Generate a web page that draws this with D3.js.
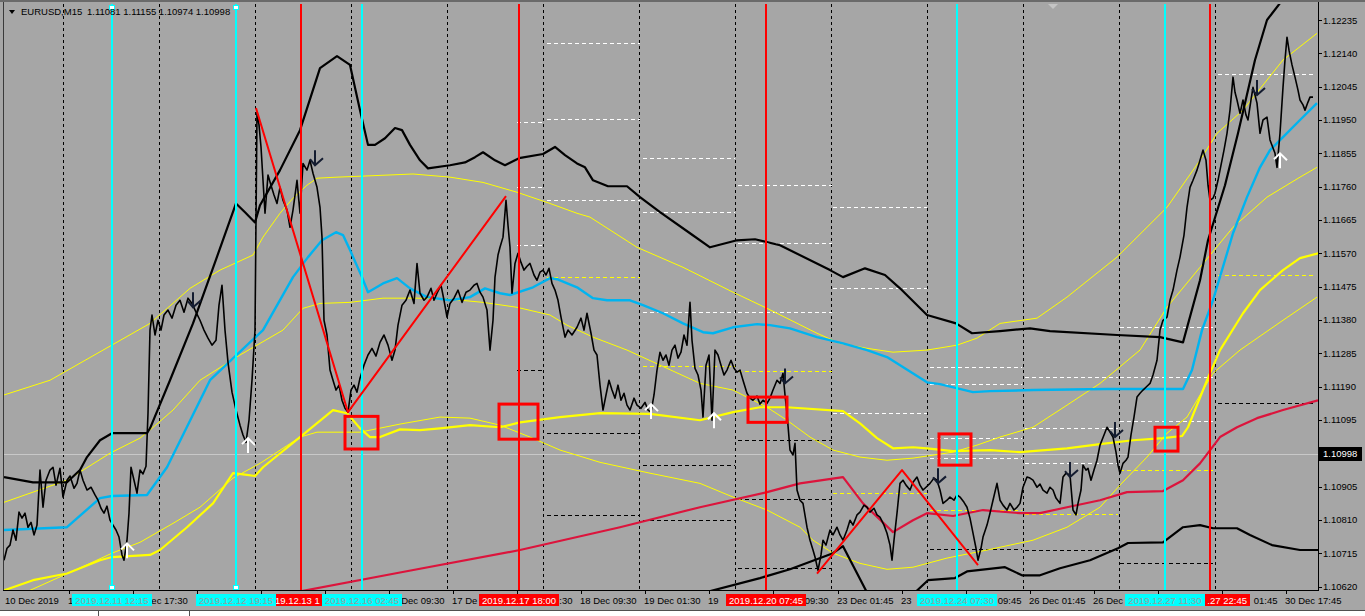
<!DOCTYPE html>
<html><head><meta charset="utf-8">
<script src="https://cdn.jsdelivr.net/npm/d3@7"></script>
<style>
html,body{margin:0;padding:0;background:#a6a6a6;overflow:hidden}
svg{display:block}
text{font-family:"Liberation Sans",Arial,sans-serif}
</style></head><body>
<svg id="c" width="1365" height="616"></svg>
<script>
// ---------- DATA ----------
const tradingDays = ["2019.12.10","2019.12.11","2019.12.12","2019.12.13","2019.12.16","2019.12.17","2019.12.18","2019.12.19","2019.12.20","2019.12.23","2019.12.24","2019.12.26","2019.12.27","2019.12.30"];
const barsPerDay = 96;
const firstBarTime = "2019.12.10 09:15";
const symbolTitle = "EURUSD,M15";
const ohlc = [1.11081, 1.11155, 1.10974, 1.10998];
const bidPrice = 1.10998;
const priceTicks = [1.12235,1.12140,1.12045,1.11950,1.11855,1.11760,1.11665,1.11570,1.11475,1.11380,1.11285,1.11190,1.11095,1.10905,1.10810,1.10715,1.10620];
const firstLabel = "10 Dec 2019";
const timeLabels = ["11 Dec 01:30","11 Dec 17:30","12 Dec 09:30","13 Dec 01:30","13 Dec 17:30","16 Dec 09:30","17 Dec 01:30","17 Dec 17:30","18 Dec 09:30","19 Dec 01:30","19 Dec 17:30","20 Dec 09:30","23 Dec 01:45","23 Dec 17:45","24 Dec 09:45","26 Dec 01:45","26 Dec 17:45","27 Dec 09:45","30 Dec 01:45","30 Dec 17:45"];
const cyanLines = ["2019.12.11 12:15","2019.12.12 19:15","2019.12.16 02:45","2019.12.24 07:30","2019.12.27 11:30"];
const redLines = ["2019.12.13 11:30","2019.12.17 18:00","2019.12.20 07:45","2019.12.27 22:45"];
const selectedCyan = [0,1];
const shiftMarkerBar = 1049;

// close line: [bar since first visible bar, close]
const closeLine = [[0,1.10695],[3,1.10729],[6,1.10738],[9,1.10781],[12,1.10752],[15,1.10832],[18,1.10815],[21,1.10829],[24,1.10789],[27,1.10803],[30,1.10767],[33,1.10795],[36,1.10952],[39,1.10846],[42,1.10923],[46,1.10952],[49,1.10960],[52,1.10909],[56,1.10957],[59,1.10875],[63,1.10923],[66,1.10935],[70,1.10900],[73,1.10914],[76,1.10952],[79,1.10923],[83,1.10895],[87,1.10903],[91,1.10881],[94,1.10866],[97,1.10843],[100,1.10829],[103,1.10849],[106,1.10809],[109,1.10795],[112,1.10781],[115,1.10761],[118,1.10710],[120,1.10695],[123,1.10752],[125,1.10829],[127,1.10960],[130,1.10923],[133,1.10886],[136,1.10952],[139,1.10941],[142,1.10963],[144,1.11114],[146,1.11351],[148,1.11394],[151,1.11337],[154,1.11379],[157,1.11351],[160,1.11394],[164,1.11408],[168,1.11385],[172,1.11422],[176,1.11436],[180,1.11402],[184,1.11442],[188,1.11427],[192,1.11402],[196,1.11379],[200,1.11351],[204,1.11328],[208,1.11308],[212,1.11322],[215,1.11422],[218,1.11479],[221,1.11351],[224,1.11259],[228,1.11174],[232,1.11123],[236,1.11080],[239,1.11052],[242,1.11031],[245,1.11094],[248,1.11208],[251,1.11351],[253,1.11972],[255,1.11936],[257,1.11873],[259,1.11778],[261,1.11684],[264,1.11793],[267,1.11764],[270,1.11736],[273,1.11712],[276,1.11758],[279,1.11721],[283,1.11693],[286,1.11644],[289,1.11693],[293,1.11778],[296,1.11684],[299,1.11826],[303,1.11807],[306,1.11835],[309,1.11798],[313,1.11758],[316,1.11701],[318,1.11616],[320,1.11379],[323,1.11337],[326,1.11237],[329,1.11208],[332,1.11180],[335,1.11194],[338,1.11151],[341,1.11128],[344,1.11117],[347,1.11180],[350,1.11194],[353,1.11174],[356,1.11214],[360,1.11251],[364,1.11280],[368,1.11299],[372,1.11277],[376,1.11316],[380,1.11337],[384,1.11308],[388,1.11265],[391,1.11294],[394,1.11365],[398,1.11422],[402,1.11436],[406,1.11465],[410,1.11427],[413,1.11541],[416,1.11456],[420,1.11436],[423,1.11445],[427,1.11470],[430,1.11436],[433,1.11456],[437,1.11479],[440,1.11436],[443,1.11388],[446,1.11427],[450,1.11442],[454,1.11465],[458,1.11430],[462,1.11459],[466,1.11465],[470,1.11479],[473,1.11484],[476,1.11459],[479,1.11445],[483,1.11408],[486,1.11294],[489,1.11379],[491,1.11502],[494,1.11565],[496,1.11587],[499,1.11616],[502,1.11721],[504,1.11650],[506,1.11587],[508,1.11456],[511,1.11541],[514,1.11570],[517,1.11544],[520,1.11522],[523,1.11533],[526,1.11541],[530,1.11508],[533,1.11493],[536,1.11516],[539,1.11522],[542,1.11508],[545,1.11527],[548,1.11484],[551,1.11465],[554,1.11436],[557,1.11388],[561,1.11331],[564,1.11351],[568,1.11337],[573,1.11359],[577,1.11385],[580,1.11351],[583,1.11399],[587,1.11342],[590,1.11294],[593,1.11280],[596,1.11194],[599,1.11123],[602,1.11166],[605,1.11208],[608,1.11180],[611,1.11157],[614,1.11194],[617,1.11151],[620,1.11171],[623,1.11137],[626,1.11123],[630,1.11157],[633,1.11137],[637,1.11128],[641,1.11145],[644,1.11123],[647,1.11117],[650,1.11166],[653,1.11237],[656,1.11288],[659,1.11265],[662,1.11280],[665,1.11251],[668,1.11294],[671,1.11308],[674,1.11271],[677,1.11288],[680,1.11337],[683,1.11308],[686,1.11430],[688,1.11322],[691,1.11242],[694,1.11223],[697,1.11180],[699,1.11103],[702,1.11251],[705,1.11280],[708,1.11094],[711,1.11294],[714,1.11280],[717,1.11251],[720,1.11223],[723,1.11237],[727,1.11265],[730,1.11242],[733,1.11231],[736,1.11237],[739,1.11208],[743,1.11171],[746,1.11157],[749,1.11151],[753,1.11163],[756,1.11140],[759,1.11151],[763,1.11142],[766,1.11157],[769,1.11180],[773,1.11208],[776,1.11199],[779,1.11228],[781,1.11166],[783,1.11114],[786,1.11009],[789,1.10995],[791,1.11028],[793,1.10895],[796,1.10866],[799,1.10857],[803,1.10789],[806,1.10752],[809,1.10724],[811,1.10704],[814,1.10666],[817,1.10710],[819,1.10752],[822,1.10738],[826,1.10781],[829,1.10767],[833,1.10789],[836,1.10767],[839,1.10752],[843,1.10781],[846,1.10809],[849,1.10795],[853,1.10824],[856,1.10832],[860,1.10852],[863,1.10846],[866,1.10832],[870,1.10843],[873,1.10824],[876,1.10818],[880,1.10795],[883,1.10772],[886,1.10738],[888,1.10695],[890,1.10752],[893,1.10829],[896,1.10914],[899,1.10923],[902,1.10909],[906,1.10895],[909,1.10917],[913,1.10932],[916,1.10909],[919,1.10895],[922,1.10903],[926,1.10914],[930,1.10929],[933,1.10923],[936,1.10895],[939,1.10857],[943,1.10866],[946,1.10875],[950,1.10866],[953,1.10881],[956,1.10875],[960,1.10860],[963,1.10846],[966,1.10815],[969,1.10772],[972,1.10729],[974,1.10695],[977,1.10729],[979,1.10761],[983,1.10795],[986,1.10829],[989,1.10866],[993,1.10914],[996,1.10866],[999,1.10852],[1003,1.10838],[1006,1.10857],[1010,1.10838],[1013,1.10846],[1016,1.10857],[1019,1.10903],[1023,1.10932],[1026,1.10929],[1029,1.10923],[1033,1.10903],[1036,1.10912],[1039,1.10895],[1043,1.10886],[1046,1.10903],[1049,1.10895],[1052,1.10872],[1056,1.10857],[1059,1.10932],[1062,1.10943],[1066,1.10938],[1069,1.10838],[1072,1.10824],[1074,1.10857],[1077,1.10895],[1079,1.10966],[1082,1.10952],[1084,1.10957],[1087,1.10923],[1090,1.10952],[1093,1.10980],[1096,1.11023],[1100,1.11052],[1103,1.11074],[1106,1.11060],[1109,1.11046],[1112,1.11003],[1114,1.10966],[1116,1.10943],[1119,1.10971],[1122,1.10980],[1124,1.10989],[1127,1.11052],[1130,1.11103],[1133,1.11160],[1136,1.11171],[1139,1.11180],[1143,1.11191],[1146,1.11199],[1149,1.11223],[1153,1.11265],[1156,1.11351],[1159,1.11379],[1163,1.11388],[1166,1.11436],[1169,1.11465],[1173,1.11522],[1176,1.11559],[1180,1.11622],[1183,1.11701],[1186,1.11758],[1189,1.11778],[1193,1.11807],[1196,1.11835],[1199,1.11864],[1202,1.11835],[1204,1.11764],[1206,1.11721],[1209,1.11727],[1211,1.11741],[1214,1.11778],[1216,1.11807],[1220,1.11864],[1223,1.11912],[1226,1.11978],[1229,1.12072],[1231,1.12029],[1233,1.12007],[1236,1.11969],[1239,1.12007],[1242,1.11964],[1244,1.11950],[1247,1.12007],[1249,1.12043],[1251,1.12021],[1253,1.11998],[1256,1.11912],[1259,1.11950],[1263,1.11958],[1266,1.11893],[1269,1.11870],[1271,1.11855],[1273,1.11815],[1276,1.11912],[1279,1.12043],[1281,1.12121],[1283,1.12186],[1285,1.12149],[1288,1.12107],[1291,1.12072],[1294,1.12035],[1296,1.12007],[1299,1.11993],[1301,1.11978],[1304,1.12001],[1306,1.12015],[1309,1.12015]];

const upperBand = [[0,1.10932],[29,1.10917],[63,1.10917],[76,1.10952],[83,1.10989],[96,1.11037],[108,1.11057],[143,1.11057],[146,1.11071],[166,1.11208],[189,1.11370],[211,1.11544],[232,1.11712],[241,1.11687],[251,1.11658],[256,1.11707],[276,1.11807],[296,1.11921],[316,1.12098],[333,1.12132],[346,1.12107],[356,1.11978],[364,1.11879],[371,1.11879],[381,1.11898],[391,1.11927],[398,1.11921],[406,1.11879],[416,1.11835],[424,1.11812],[446,1.11821],[461,1.11829],[471,1.11844],[479,1.11858],[491,1.11835],[501,1.11821],[515,1.11841],[539,1.11853],[551,1.11873],[561,1.11850],[573,1.11826],[581,1.11815],[589,1.11778],[604,1.11761],[623,1.11761],[636,1.11730],[656,1.11687],[686,1.11627],[706,1.11587],[733,1.11607],[751,1.11610],[776,1.11593],[826,1.11522],[839,1.11502],[861,1.11527],[881,1.11508],[896,1.11470],[923,1.11394],[952,1.11370],[968,1.11342],[996,1.11348],[1026,1.11356],[1046,1.11348],[1113,1.11337],[1156,1.11331],[1179,1.11316],[1196,1.11493],[1204,1.11607],[1221,1.11764],[1234,1.11912],[1251,1.12121],[1263,1.12235],[1276,1.12283]];
const lowerBandA = [[701,1.10603],[756,1.10644],[786,1.10669],[829,1.10715],[839,1.10735],[863,1.10603]];
const lowerBandB = [[911,1.10603],[924,1.10638],[951,1.10644],[963,1.10663],[1001,1.10675],[1018,1.10652],[1036,1.10652],[1056,1.10672],[1086,1.10695],[1114,1.10729],[1124,1.10744],[1159,1.10746],[1179,1.10789],[1196,1.10795],[1209,1.10786],[1233,1.10786],[1246,1.10767],[1268,1.10738],[1296,1.10724],[1314,1.10724]];
const blueLine = [[0,1.10781],[63,1.10789],[96,1.10872],[108,1.10878],[143,1.10881],[163,1.10960],[206,1.11208],[259,1.11351],[289,1.11502],[304,1.11559],[318,1.11607],[332,1.11630],[339,1.11622],[346,1.11579],[358,1.11502],[364,1.11459],[379,1.11484],[393,1.11499],[406,1.11470],[423,1.11445],[446,1.11436],[466,1.11445],[481,1.11470],[496,1.11456],[506,1.11451],[529,1.11473],[546,1.11499],[553,1.11496],[573,1.11473],[589,1.11442],[603,1.11436],[626,1.11436],[639,1.11422],[659,1.11399],[679,1.11370],[699,1.11345],[709,1.11342],[729,1.11359],[753,1.11368],[766,1.11365],[786,1.11356],[813,1.11331],[839,1.11313],[863,1.11294],[883,1.11274],[923,1.11202],[936,1.11197],[969,1.11174],[986,1.11177],[1029,1.11180],[1103,1.11183],[1179,1.11183],[1188,1.11237],[1198,1.11351],[1209,1.11436],[1229,1.11627],[1243,1.11730],[1256,1.11815],[1266,1.11864],[1279,1.11901],[1296,1.11950],[1313,1.11998]];
const crimsonLine = [[296,1.10606],[396,1.10660],[516,1.10724],[616,1.10789],[696,1.10846],[763,1.10889],[796,1.10914],[839,1.10932],[859,1.10857],[889,1.10775],[909,1.10809],[923,1.10829],[949,1.10821],[979,1.10838],[1016,1.10829],[1036,1.10829],[1063,1.10846],[1096,1.10866],[1123,1.10889],[1159,1.10892],[1179,1.10923],[1196,1.10971],[1216,1.11046],[1233,1.11074],[1253,1.11100],[1279,1.11123],[1314,1.11151]];
const thickYellow = [[0,1.10609],[29,1.10638],[63,1.10657],[96,1.10695],[108,1.10704],[146,1.10710],[156,1.10724],[183,1.10789],[209,1.10857],[229,1.10943],[243,1.10938],[251,1.10935],[259,1.10960],[296,1.11046],[329,1.11123],[343,1.11114],[356,1.11071],[366,1.11046],[376,1.11046],[396,1.11068],[416,1.11066],[436,1.11071],[466,1.11080],[496,1.11074],[516,1.11088],[556,1.11103],[596,1.11114],[646,1.11112],[696,1.11094],[729,1.11117],[756,1.11131],[783,1.11131],[839,1.11120],[856,1.11085],[873,1.11043],[889,1.11014],[909,1.11017],[923,1.11014],[949,1.11006],[986,1.11009],[1016,1.11003],[1063,1.11014],[1096,1.11026],[1129,1.11037],[1159,1.11043],[1178,1.11049],[1184,1.11074],[1203,1.11208],[1216,1.11294],[1239,1.11399],[1256,1.11465],[1279,1.11522],[1296,1.11556],[1314,1.11570]];
const thinYellowUpper = [[0,1.11166],[46,1.11208],[146,1.11370],[186,1.11470],[216,1.11522],[249,1.11565],[259,1.11616],[276,1.11684],[289,1.11727],[303,1.11764],[313,1.11784],[333,1.11787],[359,1.11790],[409,1.11796],[446,1.11787],[479,1.11772],[513,1.11744],[546,1.11712],[573,1.11684],[586,1.11673],[633,1.11587],[679,1.11530],[729,1.11459],[763,1.11413],[813,1.11342],[836,1.11313],[863,1.11299],[889,1.11288],[923,1.11294],[953,1.11308],[973,1.11328],[996,1.11370],[1033,1.11385],[1063,1.11445],[1113,1.11559],[1163,1.11701],[1196,1.11835],[1213,1.11912],[1239,1.11978],[1279,1.12121],[1313,1.12197]];
const thinYellowMid = [[0,1.10860],[63,1.10923],[106,1.11000],[136,1.11043],[146,1.11066],[169,1.11123],[196,1.11208],[236,1.11280],[279,1.11351],[299,1.11413],[316,1.11427],[346,1.11430],[379,1.11442],[413,1.11442],[446,1.11439],[479,1.11430],[513,1.11416],[546,1.11394],[563,1.11365],[589,1.11331],[623,1.11294],[696,1.11199],[729,1.11180],[763,1.11131],[783,1.11094],[806,1.11046],[829,1.11009],[856,1.10989],[883,1.10980],[909,1.10986],[949,1.11003],[973,1.11023],[996,1.11046],[1029,1.11074],[1063,1.11137],[1096,1.11199],[1136,1.11294],[1163,1.11416],[1196,1.11530],[1229,1.11644],[1263,1.11730],[1296,1.11787],[1313,1.11815]];
const thinYellowLower = [[0,1.10570],[26,1.10609],[79,1.10677],[108,1.10715],[136,1.10746],[169,1.10800],[196,1.10846],[229,1.10929],[256,1.10971],[296,1.11046],[313,1.11060],[356,1.11060],[396,1.11083],[436,1.11103],[466,1.11100],[496,1.11080],[526,1.11046],[556,1.11009],[596,1.10974],[646,1.10943],[696,1.10914],[729,1.10875],[763,1.10838],[796,1.10789],[809,1.10752],[829,1.10715],[856,1.10686],[883,1.10669],[909,1.10675],[943,1.10701],[983,1.10724],[1029,1.10752],[1063,1.10789],[1096,1.10846],[1116,1.10909],[1143,1.10989],[1163,1.11057],[1183,1.11103],[1209,1.11228],[1236,1.11294],[1279,1.11379],[1313,1.11445]];

// dashed daily levels: [startBar, endBar, price]
const whiteLevels = [[543,636,1.12169],[513,539,1.11944],[543,636,1.11952],[513,539,1.11758],[543,636,1.11721],[513,539,1.11593],[639,731,1.11841],[639,731,1.11687],[639,731,1.11402],[734,828,1.11764],[734,828,1.11598],[734,828,1.11402],[829,923,1.11701],[829,923,1.11470],[829,923,1.11114],[926,1018,1.11245],[926,1018,1.11197],[926,1018,1.11043],[926,1018,1.10986],[1021,1114,1.11217],[1021,1114,1.11071],[1021,1114,1.10971],[1116,1209,1.11359],[1116,1209,1.11217],[1116,1209,1.11091],[1214,1309,1.12081]];
const yellowLevels = [[543,636,1.11502],[639,731,1.11248],[734,828,1.11234],[829,923,1.10886],[926,1018,1.10838],[1021,1114,1.10826],[1116,1209,1.10952],[1214,1309,1.11508]];
const blackLevels = [[513,539,1.11237],[543,636,1.11057],[543,636,1.10824],[639,731,1.10966],[639,731,1.10809],[734,828,1.11037],[734,828,1.10869],[734,828,1.10672],[926,1018,1.10726],[1021,1114,1.10724],[1116,1209,1.10686],[1214,1309,1.11143]];

const zigzagA = [[252,1.11984],[344,1.11117],[502,1.11733]];
const zigzagB = [[813,1.10657],[898,1.10952],[974,1.10681]];
const boxes = [[341,374,1.11105,1.11012],[495,534,1.11140,1.11040],[744,783,1.11160,1.11088],[935,967,1.11055,1.10966],[1151,1174,1.11074,1.11006]];
const downArrows = [[189,1.11416],[311,1.11821],[781,1.11199],[934,1.10914],[1066,1.10932],[1111,1.11046],[1253,1.12021]];
const upArrows = [[123,1.10743],[244,1.11043],[647,1.11140],[710,1.11114],[1276,1.11855]];

// ---------- RENDER ----------
const plot = {l:4, t:4, r:1318, b:590};
const months = {Dec:"12"};
function barOfRaw(t){ const [d,hm]=t.split(" "); const [h,m]=hm.split(":").map(Number); return tradingDays.indexOf(d)*barsPerDay + h*4 + Math.floor(m/15); }
const firstBar = barOfRaw(firstBarTime);
const barOf = t => barOfRaw(t) - firstBar;
const labelToTime = s => { const [d,mon,hm]=s.split(" "); return "2019."+months[mon]+"."+d.padStart(2,"0")+" "+hm; };

const x = d3.scaleLinear().domain([0, plot.r-plot.l]).range([plot.l, plot.r]);
const y = d3.scaleLinear().domain([1.10620, 1.12235]).range([586.5, 20]);
const px = v => Math.round(x(v))+0.5;
const py = v => Math.round(y(v))+0.5;

const svg = d3.select("#c");
svg.append("rect").attr("width",1365).attr("height",616).attr("fill","#a6a6a6");
svg.append("defs").append("clipPath").attr("id","pc").append("rect")
  .attr("x",plot.l).attr("y",plot.t).attr("width",plot.r-plot.l).attr("height",plot.b-plot.t);
const g = svg.append("g").attr("clip-path","url(#pc)");

// day grid
const dayStarts = d3.range(1, tradingDays.length).map(k => k*barsPerDay - firstBar);
g.append("g").selectAll("line").data(dayStarts).join("line")
  .attr("x1",d=>px(d)).attr("x2",d=>px(d)).attr("y1",plot.t).attr("y2",plot.b)
  .attr("stroke","#000").attr("stroke-dasharray","3,3");

function levels(arr,color){
  g.append("g").selectAll("line").data(arr).join("line")
    .attr("x1",d=>x(d[0])).attr("x2",d=>x(d[1])).attr("y1",d=>py(d[2])).attr("y2",d=>py(d[2]))
    .attr("stroke",color).attr("stroke-dasharray","4,3");
}
levels(whiteLevels,"#ffffff"); levels(yellowLevels,"#ffff00"); levels(blackLevels,"#000000");

// bid line
g.append("line").attr("x1",plot.l).attr("x2",plot.r).attr("y1",py(bidPrice)).attr("y2",py(bidPrice)).attr("stroke","#c8c8c8");

const line = d3.line().x(d=>x(d[0])).y(d=>y(d[1]));
function path(data,color,w){
  g.append("path").attr("d",line(data)).attr("fill","none").attr("stroke",color)
   .attr("stroke-width",w).attr("stroke-linejoin","round");
}
path(thinYellowUpper,"#ffff00",1);
path(thinYellowMid,"#ffff00",1);
path(thinYellowLower,"#ffff00",1);
path(thickYellow,"#ffff00",2.2);
path(crimsonLine,"#dc143c",2.2);
path(blueLine,"#00b4f0",2.4);
path(upperBand,"#000000",2.2);
path(lowerBandA,"#000000",2.2);
path(lowerBandB,"#000000",2.2);
path(closeLine,"#000000",1.6);

// vertical lines
g.append("g").selectAll("line").data(redLines).join("line")
  .attr("x1",d=>x(barOf(d))).attr("x2",d=>x(barOf(d))).attr("y1",plot.t).attr("y2",plot.b)
  .attr("stroke","#ff0000").attr("stroke-width",2);
g.append("g").selectAll("line").data(cyanLines).join("line")
  .attr("x1",d=>x(barOf(d))).attr("x2",d=>x(barOf(d))).attr("y1",plot.t).attr("y2",plot.b)
  .attr("stroke","#00ffff").attr("stroke-width",2);
selectedCyan.forEach(i=>{
  const cx = x(barOf(cyanLines[i]));
  [plot.t+2, plot.b-4].forEach(yy=>{
    g.append("rect").attr("x",cx-2.5).attr("y",yy-0.5).attr("width",5).attr("height",4)
     .attr("fill","#fff").attr("stroke","#00ffff").attr("stroke-width",1);
  });
});

path(zigzagA,"#ff0000",2);
path(zigzagB,"#ff0000",2);

g.append("g").selectAll("rect").data(boxes).join("rect")
  .attr("x",d=>x(d[0])).attr("y",d=>y(d[2])).attr("width",d=>x(d[1])-x(d[0])).attr("height",d=>y(d[3])-y(d[2]))
  .attr("fill","none").attr("stroke","#ff0000").attr("stroke-width",3);

g.append("g").selectAll("path").data(downArrows).join("path")
  .attr("transform",d=>`translate(${x(d[0])},${y(d[1])})`)
  .attr("d","M0,-15L0,0M-5,-6L0,0L8,-7").attr("fill","none").attr("stroke","#141c30").attr("stroke-width",2);
g.append("g").selectAll("path").data(upArrows).join("path")
  .attr("transform",d=>`translate(${x(d[0])},${y(d[1])})`)
  .attr("d","M0,15L0,0M-6,6L0,0L7,7").attr("fill","none").attr("stroke","#ffffff").attr("stroke-width",2);

// shift marker
svg.append("path").attr("d",`M${x(shiftMarkerBar)-5},4L${x(shiftMarkerBar)+5},4L${x(shiftMarkerBar)},9Z`).attr("fill","#c4c4c4");

// frame
svg.append("rect").attr("x",0).attr("y",0).attr("width",1365).attr("height",2).attr("fill","#6a6a6a");
svg.append("line").attr("x1",3.5).attr("x2",3.5).attr("y1",2).attr("y2",plot.b).attr("stroke","#3a3a3a");
svg.append("line").attr("x1",plot.r+0.5).attr("x2",plot.r+0.5).attr("y1",2).attr("y2",plot.b+1).attr("stroke","#000");
svg.append("line").attr("x1",3).attr("x2",plot.r+1).attr("y1",plot.b+0.5).attr("y2",plot.b+0.5).attr("stroke","#000");

// right axis
const ra = svg.append("g");
ra.selectAll("line").data(priceTicks).join("line")
  .attr("x1",plot.r).attr("x2",plot.r+4).attr("y1",d=>py(d)).attr("y2",d=>py(d)).attr("stroke","#000");
ra.selectAll("text").data(priceTicks).join("text")
  .attr("x",plot.r+5).attr("y",d=>y(d)+3.5).attr("font-size","9.5px").attr("fill","#000").text(d=>d.toFixed(5));
svg.append("rect").attr("x",plot.r+1).attr("y",Math.round(y(bidPrice))-7).attr("width",43).attr("height",14).attr("fill","#000");
svg.append("text").attr("x",plot.r+5).attr("y",y(bidPrice)+3.5).attr("font-size","9.5px").attr("fill","#fff").text(bidPrice.toFixed(5));

// keep only the part of a text that is not hidden under label boxes drawn above it
function trimCovered(sel, covers){
  sel.each(function(){
    const el=this, s=el.textContent, n=s.length;
    const keep=[];
    for(let i=0;i<n;i++){
      const a=el.getStartPositionOfChar(i).x, b=el.getEndPositionOfChar(i).x;
      keep.push(!covers.some(c=> b>c[0]+1.5 && a<c[1]-1.5));
    }
    let best=[0,0],cur=null;
    for(let i=0;i<=n;i++){
      if(i<n && keep[i]){ if(cur===null) cur=i; }
      else if(cur!==null){ if(i-cur>best[1]-best[0]) best=[cur,i]; cur=null; }
    }
    while(best[0]<best[1] && s[best[0]]===" ") best[0]++;
    while(best[1]>best[0] && s[best[1]-1]===" ") best[1]--;
    if(best[0]===0 && best[1]===n) return;
    if(best[1]<=best[0]){ el.remove(); return; }
    const x0 = el.getStartPositionOfChar(best[0]).x;
    d3.select(el).attr("text-anchor","start").attr("x",x0).text(s.slice(best[0],best[1]));
  });
}
const boxW = 80;
const cover = arr => arr.map(t=>[x(barOf(t))-boxW/2, x(barOf(t))+boxW/2]);

// bottom axis
const ba = svg.append("g");
const tl = timeLabels.map(s=>({s, b:barOf(labelToTime(s))}));
ba.selectAll("line").data(tl).join("line")
  .attr("x1",d=>px(d.b)).attr("x2",d=>px(d.b)).attr("y1",plot.b).attr("y2",plot.b+4).attr("stroke","#000");
const tickTexts = ba.selectAll("text").data(tl).join("text")
  .attr("x",d=>x(d.b)-1).attr("y",604).attr("font-size","9.5px").attr("fill","#000").text(d=>d.s);
svg.append("text").attr("x",x(1)).attr("y",604).attr("font-size","9.5px").attr("fill","#000").text(firstLabel);
trimCovered(tickTexts, cover(redLines).concat(cover(cyanLines)));

function vlabels(arr,bg,fg){
  const gg = svg.append("g");
  gg.selectAll("rect").data(arr).join("rect")
    .attr("x",t=>x(barOf(t))-boxW/2).attr("y",594).attr("width",boxW).attr("height",12).attr("fill",bg);
  return gg.selectAll("text").data(arr).join("text")
    .attr("x",t=>x(barOf(t))).attr("y",603.5).attr("text-anchor","middle").attr("font-size","9.5px").attr("fill",fg).text(t=>t);
}
const redTexts = vlabels(redLines,"#ff0000","#ffffff");
vlabels(cyanLines,"#00ffff","#9c9c9c");
trimCovered(redTexts, cover(cyanLines));

// bottom strip
svg.append("rect").attr("x",0).attr("y",611).attr("width",1365).attr("height",5).attr("fill","#ffffff");
svg.append("line").attr("x1",0).attr("x2",1365).attr("y1",610.5).attr("y2",610.5).attr("stroke","#505050");
svg.append("line").attr("x1",98.5).attr("x2",98.5).attr("y1",611).attr("y2",616).attr("stroke","#505050");
svg.append("line").attr("x1",189.5).attr("x2",189.5).attr("y1",611).attr("y2",616).attr("stroke","#505050");

// header
svg.append("path").attr("d","M9,10L15,10L12,14Z").attr("fill","#000");
svg.append("text").attr("x",21).attr("y",15).attr("font-size","9.5px").attr("fill","#000").text(symbolTitle);
svg.append("text").attr("x",87).attr("y",15).attr("font-size","9.5px").attr("fill","#000").text(ohlc.map(v=>v.toFixed(5)).join(" "));
</script>
</body></html>
